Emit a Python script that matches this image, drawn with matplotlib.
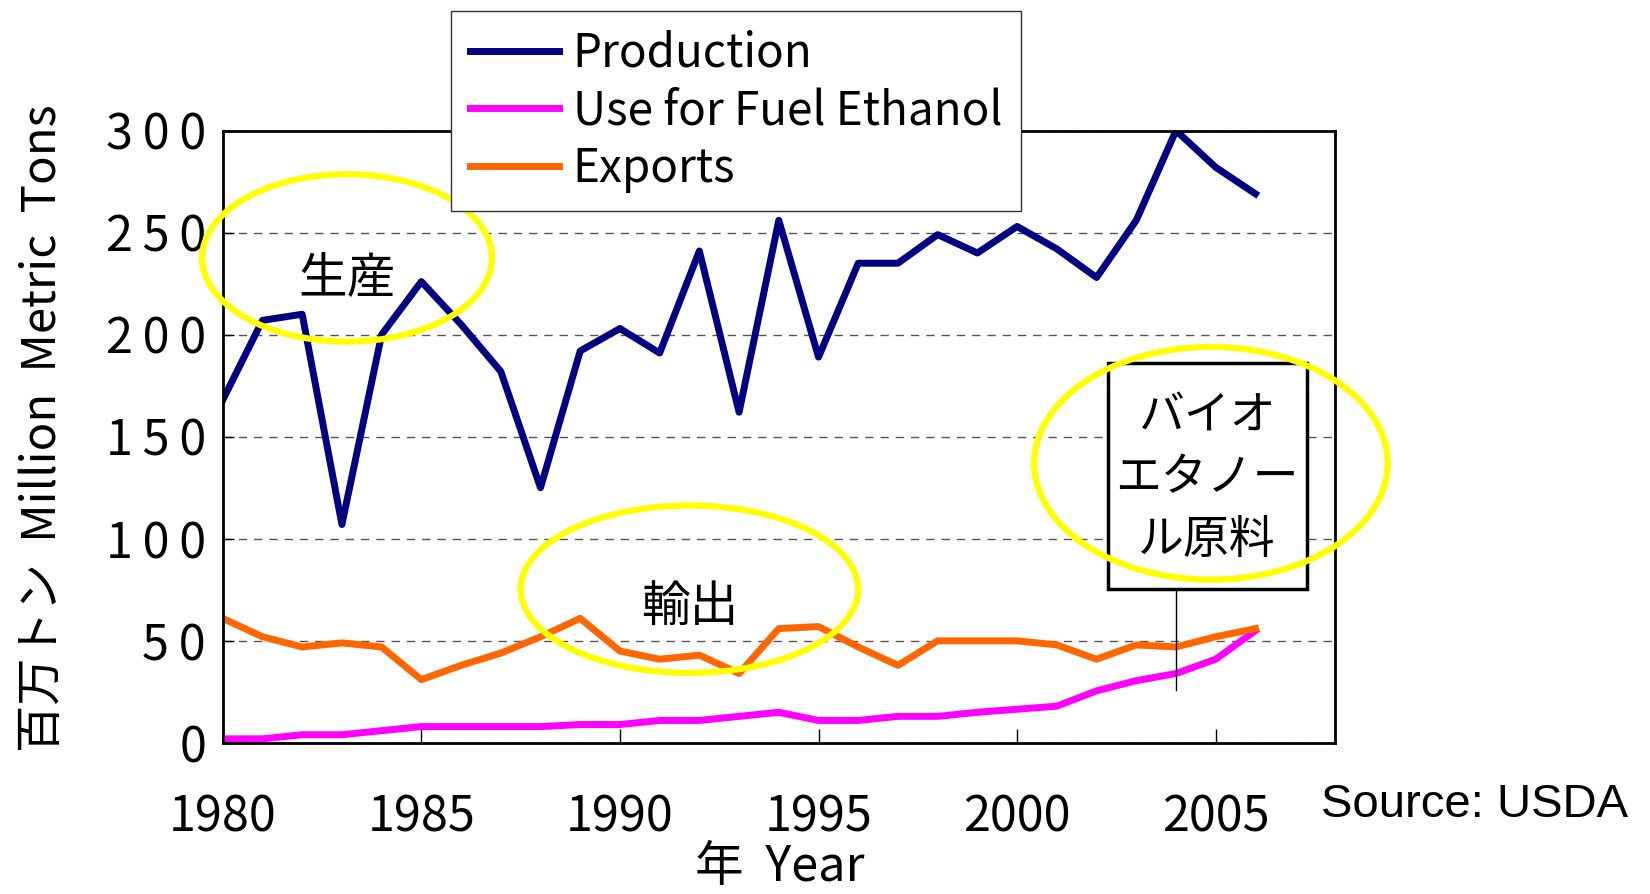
import numpy as np
import matplotlib.pyplot as plt
from matplotlib.patches import Ellipse, Rectangle
from matplotlib.ticker import FuncFormatter

plt.rcParams['font.family'] = ['Noto Sans CJK JP', 'DejaVu Sans']

years = list(range(1980, 2007))
production = [168, 207, 210, 107, 200, 226, 205, 182, 125, 192, 203, 191, 241,
              162, 256, 189, 235, 235, 249, 240, 253, 242, 228, 256, 300, 282, 269]
fuel_ethanol = [2, 2, 4, 4, 6, 8, 8, 8, 8, 9, 9, 11, 11,
                13, 15, 11, 11, 13, 13, 15, 16.5, 18, 25.5, 30.5, 34, 41, 55]
exports = [61, 52, 47, 49, 47, 31, 38, 44, 52, 61, 45, 41, 43,
           34, 56, 57, 47, 38, 50, 50, 50, 48, 41, 48, 47, 52, 56]

xticks = [1980, 1985, 1990, 1995, 2000, 2005]
yticks = [0, 50, 100, 150, 200, 250, 300]

fig = plt.figure(figsize=(16.5, 8.94), dpi=100)
ax = fig.add_axes([0.135, 0.169, 0.674, 0.685])

ax.plot(years, production, color='#000080', lw=5, label='Production')
ax.plot(years, fuel_ethanol, color='#FF00FF', lw=5, label='Use for Fuel Ethanol')
ax.plot(years, exports, color='#FF6600', lw=5, label='Exports')

ax.set_xlim(1980, 2008)
ax.set_ylim(0, 300)
ax.set_xticks(xticks)
ax.set_yticks(yticks)
# y labels in the original are more widely spaced
ax.yaxis.set_major_formatter(FuncFormatter(lambda v, p: '\u2009'.join(str(int(v)))))
ax.tick_params(axis='x', direction='in', length=10, width=1, pad=36, labelsize=35)
ax.tick_params(axis='y', direction='in', length=8, width=1, pad=12, labelsize=35)
for s in ax.spines.values():
    s.set_linewidth(2)
ax.grid(axis='y', linestyle=(0, (6, 5)), color='#555555', lw=1)

# axis titles
fig.text(0.026, 0.521, '百万トン  Million  Metric  Tons', fontsize=34, rotation=90,
         ha='center', va='center')
fig.text(0.4727, 0.03, '年  Year', fontsize=35, ha='center', va='center')

# yellow ellipses
for (cx, cy, w, h) in [(1983.13, 237.6, 7.3, 82), (1991.75, 75.3, 8.5, 82), (2004.88, 137, 8.9, 114)]:
    ax.add_patch(Ellipse((cx, cy), w, h, fill=False, edgecolor='#FFFF00', lw=4.5,
                         clip_on=False, zorder=5))

ax.text(1983.13, 227, '生産', fontsize=35, ha='center', va='center', zorder=6)
ax.text(1991.75, 66, '輸出', fontsize=35, ha='center', va='center', zorder=6)

# callout box
ax.add_patch(Rectangle((2002.28, 75.3), 5.01, 110.7, fc='white', ec='black', lw=2.5, zorder=4))
ax.plot([2004, 2004], [26, 75.3], color='black', lw=1, zorder=4)
ax.text(2004.78, 130, 'バイオ\nエタノー\nル原料', fontsize=33, ha='center', va='center',
        linespacing=1.36, zorder=6)

leg = ax.legend(loc='upper left', bbox_to_anchor=(0.2735, 0.988),
                bbox_transform=fig.transFigure, fontsize=33, handlelength=1.95,
                handletextpad=0.3, labelspacing=0.2, borderpad=0.4, borderaxespad=0,
                fancybox=False, framealpha=1, edgecolor='#333333')
leg.get_frame().set_linewidth(1)

fig.text(0.987, 0.10, 'Source: USDA', fontsize=34, ha='right', va='center',
         family='Liberation Sans')

fig.savefig('out.png', dpi=100)
